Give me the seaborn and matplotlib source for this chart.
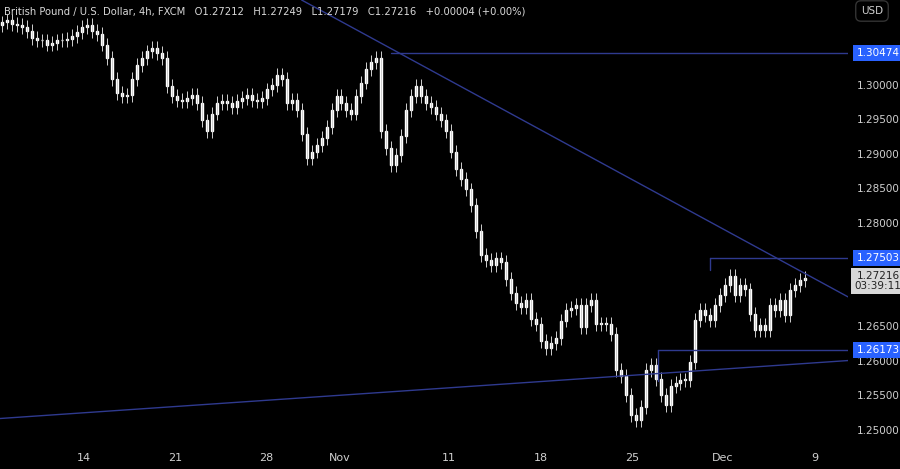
import matplotlib
matplotlib.use("Agg")
import matplotlib.pyplot as plt
import seaborn as sns
import numpy as np

# approximate closes (one per ~5px slot)
closes = [1.3092, 1.3095, 1.3090, 1.3088, 1.3085, 1.3080, 1.3070, 1.3066, 1.3066, 1.3060,
          1.3062, 1.3066, 1.3067, 1.3068, 1.3072, 1.3078, 1.3085, 1.3088, 1.3080, 1.3075,
          1.3060, 1.3040, 1.3010, 1.2990, 1.2985, 1.2987, 1.3010, 1.3030, 1.3040, 1.3050,
          1.3055, 1.3048, 1.3040, 1.3000, 1.2985, 1.2980, 1.2978, 1.2982, 1.2987, 1.2975,
          1.2950, 1.2935, 1.2960, 1.2975, 1.2978, 1.2975, 1.2970, 1.2978, 1.2982, 1.2987,
          1.2980, 1.2978, 1.2982, 1.2995, 1.3001, 1.3016, 1.3010, 1.2975, 1.2980, 1.2965,
          1.2930, 1.2895, 1.2905, 1.2915, 1.2925, 1.2940, 1.2965, 1.2985, 1.2975, 1.2965,
          1.2960, 1.2985, 1.3005, 1.3025, 1.3035, 1.3040, 1.2935, 1.2910, 1.2885, 1.2900,
          1.2928, 1.2965, 1.2985, 1.3000, 1.2985, 1.2975, 1.2970, 1.2960, 1.2950, 1.2935,
          1.2905, 1.2880, 1.2865, 1.2850, 1.2827, 1.2790, 1.2755, 1.2748, 1.2740, 1.2750,
          1.2745, 1.2720, 1.2700, 1.2685, 1.2680, 1.2690, 1.2662, 1.2655, 1.2630, 1.2620,
          1.2628, 1.2635, 1.2660, 1.2675, 1.2678, 1.2682, 1.2650, 1.2682, 1.2690, 1.2655,
          1.2655, 1.2655, 1.2640, 1.2588, 1.2580, 1.2552, 1.2523, 1.2516, 1.2535, 1.2588,
          1.2595, 1.2575, 1.2552, 1.2538, 1.2565, 1.2570, 1.2574, 1.2574, 1.2600, 1.2661,
          1.2675, 1.2668, 1.2661, 1.2682, 1.2697, 1.2712, 1.2725, 1.2697, 1.2712, 1.2705,
          1.2670, 1.2646, 1.2653, 1.2646, 1.2682, 1.2675, 1.2690, 1.2668, 1.2704, 1.2712,
          1.2719, 1.27216]
opens = [1.3088] + closes[:-1]
wick = 0.0010

tick_labels = ["14", "21", "28", "Nov", "11", "18", "25", "Dec", "9"]
tick_slots = [16.4, 34.6, 53.0, 67.6, 89.6, 108.0, 126.4, 144.4, 163.0]

price_ticks = [1.25, 1.255, 1.26, 1.265, 1.28, 1.285, 1.29, 1.295, 1.30]
levels = {"top": 1.30474, "mid": 1.27503, "low": 1.26173}
last_price = 1.27216

sns.set_style("dark", {"axes.facecolor": "black", "figure.facecolor": "black"})
plt.rcParams['font.family'] = ['DejaVu Sans']

fig = plt.figure(figsize=(9, 4.69), dpi=100)
ax = fig.add_axes([0, 0.045, 848 / 900, 0.955])
ax.set_facecolor("black")

x = np.arange(len(closes))
o = np.array(opens)
c = np.array(closes)
hi = np.maximum(o, c) + wick
lo = np.minimum(o, c) - wick
ax.vlines(x, lo, hi, color="#cfcfcf", linewidth=0.7)
cols = ["#ffffff" if cc >= oo else "#b8b8b8" for oo, cc in zip(o, c)]
ax.bar(x, np.maximum(np.abs(c - o), 0.00012), bottom=np.minimum(o, c), width=0.4, color=cols)

xmax = 169.6
ax.set_xlim(-0.5, xmax)
ax.set_ylim(1.24754, 1.31246)

line_c = "#2f3a8f"
# horizontal levels
ax.plot([78, xmax], [levels["top"]] * 2, color=line_c, lw=1)
ax.plot([142, xmax], [levels["mid"]] * 2, color=line_c, lw=1)
ax.plot([142, 142], [levels["mid"], 1.2733], color=line_c, lw=1)
ax.plot([131.4, xmax], [levels["low"]] * 2, color=line_c, lw=1)
ax.plot([131.4, 131.4], [levels["low"], 1.2572], color=line_c, lw=1)
# trend lines
ax.plot([60, xmax], [1.31246, 1.26943], color=line_c, lw=1)
ax.plot([-0.5, xmax], [1.2518, 1.2602], color=line_c, lw=1)

ax.set_xticks(tick_slots)
ax.set_xticklabels(tick_labels, color="#d0d0d0", fontsize=8)
ax.set_yticks([])
ax.tick_params(axis="x", length=0, pad=4)
for s in ax.spines.values():
    s.set_visible(False)
ax.grid(False)

# right price scale
for p in price_ticks:
    ax.text(1.0 + 30 / 848, p, f"{p:.5f}", transform=ax.get_yaxis_transform(),
            color="#d0d0d0", fontsize=7.5, ha="center", va="center")
for v in levels.values():
    ax.text(1.0 + 30 / 848, v, f"{v:.5f}", transform=ax.get_yaxis_transform(),
            color="white", fontsize=7.5, ha="center", va="center",
            bbox=dict(boxstyle="square,pad=0.3", fc="#2962ff", ec="none"))
ax.text(1.0 + 30 / 848, last_price - 0.0004, f"{last_price:.5f}\n03:39:11",
        transform=ax.get_yaxis_transform(), color="#222222", fontsize=7.5,
        ha="center", va="center", linespacing=1.0,
        bbox=dict(boxstyle="square,pad=0.3", fc="#d8d8d8", ec="none"))
fig.text(872 / 900, 1 - 11 / 469, "USD", color="#d0d0d0", fontsize=7.5, ha="center", va="center",
         bbox=dict(boxstyle="round,pad=0.5", fc="black", ec="#333333"))

fig.text(4 / 900, 1 - 11 / 469,
         "British Pound / U.S. Dollar, 4h, FXCM   O1.27212   H1.27249   L1.27179   C1.27216   +0.00004 (+0.00%)",
         color="#d8d8d8", fontsize=7.2, ha="left", va="center")

fig.savefig("out.png", dpi=100, facecolor="black")
